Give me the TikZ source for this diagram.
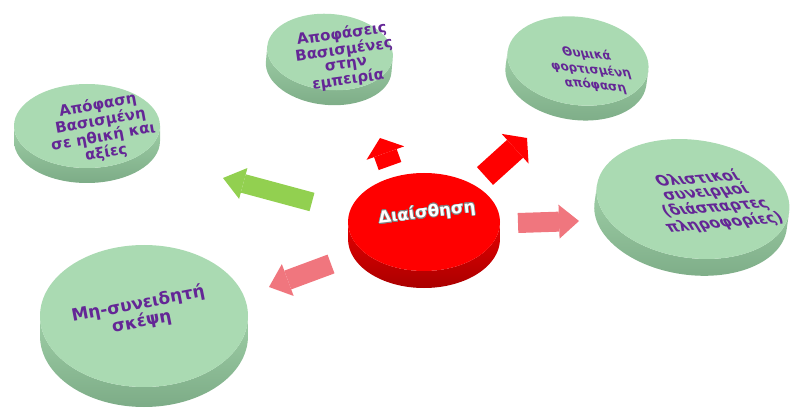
\documentclass[tikz,border=0pt]{standalone}
\usepackage{fontspec}
\setmainfont{DejaVu Sans}
\usepackage{contour}
\usetikzlibrary{arrows.meta}
\definecolor{greentop}{RGB}{170,218,178}
\definecolor{greenside}{RGB}{158,206,166}
\definecolor{greendark}{RGB}{125,172,135}
\definecolor{redtop}{RGB}{255,0,0}
\definecolor{redside}{RGB}{230,0,0}
\definecolor{reddark}{RGB}{170,0,0}
\definecolor{txtpurple}{RGB}{100,38,150}
\definecolor{arrgreen}{RGB}{146,208,80}
\definecolor{arrred}{RGB}{255,0,0}
\definecolor{arrpink}{RGB}{240,118,126}
\contourlength{0.6pt}

% disc: name, centre, x radius, y radius, depth, tilt, colour
\newcommand{\puck}[7]{%
  \begin{scope}[shift={#2},rotate=#6]
    \shade[top color=#7side,bottom color=#7dark] (-#3,0) -- (-#3,-#5)
      arc[start angle=180,end angle=360,x radius=#3pt,y radius=#4pt] -- (#3,0)
      arc[start angle=360,end angle=180,x radius=#3pt,y radius=#4pt] -- cycle;
    \fill[#7top] (0,0) ellipse[x radius=#3pt,y radius=#4pt];
    \coordinate (#1) at (0,0);
  \end{scope}}

\begin{document}
\begin{tikzpicture}[x=1pt,y=1pt,
    gtext/.style={align=center,text=txtpurple,font=\bfseries\fontsize{15}{14}\selectfont},
    rtext/.style={text=white,font=\bfseries\fontsize{16.5}{16.5}\selectfont},
    greenarrow/.style={draw=arrgreen,line width=19pt,-{Triangle[width=32pt,length=21pt,line width=0pt]}},
    redarrow/.style={draw=arrred,line width=24pt,-{Triangle[width=40pt,length=16pt,line width=0pt]}},
    pinkarrow/.style={draw=arrpink,line width=20pt,-{Triangle[width=34pt,length=20pt,line width=0pt]}}]
    \useasboundingbox (0,0) rectangle (792,410);

    \puck{ethics-disc}{(87,284)}{73}{42}{15}{0}{green}
    \puck{experience-disc}{(330,358)}{63}{38}{15}{-5}{green}
    \puck{emotion-disc}{(578,349)}{71}{44}{15}{-8}{green}
    \puck{holistic-disc}{(693,211)}{97}{59}{17}{-8}{green}
    \puck{unconscious-disc}{(144,94)}{104}{71}{20}{0}{green}
    \puck{core-disc}{(424,188)}{76}{49}{17}{0}{red}

    \node[gtext,rotate=10] (ethics) at (102,281) {Απόφαση\\Βασισμένη\\σε ηθική και\\αξίες};
    \node[gtext,rotate=8] (experience) at (345,353) {Αποφάσεις\\Βασισμένες\\στην\\εμπειρία};
    \node[gtext,rotate=-6,xslant=-0.4,font=\bfseries\fontsize{12}{15}\selectfont] (emotion) at (591,340) {Θυμικά\\φορτισμένη\\απόφαση};
    \node[gtext,rotate=5,xslant=-0.5] (holistic) at (711,209) {Ολιστικοί\\συνειρμοί\\(διάσπαρτες\\πληροφορίες)};
    \node[gtext,rotate=11,font=\bfseries\fontsize{17}{16}\selectfont] (unconscious) at (140,97) {Μη-συνειδητή\\σκέψη};
    \node[rtext,rotate=7] (core) at (427,197) {\contour{gray}{Διαίσθηση}};

    % arrows
    \coordinate (g1) at (312,208);
    \coordinate (g2) at (223,232);
    \draw[greenarrow] (g1) -- (g2);
    \coordinate (u1) at (390,244);
    \coordinate (u2) at (380,272);
    \draw[redarrow] (u1) -- (u2);
    \coordinate (v1) at (485,234);
    \coordinate (v2) at (527,272);
    \draw[redarrow] (v1) -- (v2);
    \coordinate (p1) at (518,187);
    \coordinate (p2) at (579,189);
    \draw[pinkarrow] (p1) -- (p2);
    \coordinate (q1) at (331,146);
    \coordinate (q2) at (269,123);
    \draw[pinkarrow] (q1) -- (q2);
\end{tikzpicture}
\end{document}
